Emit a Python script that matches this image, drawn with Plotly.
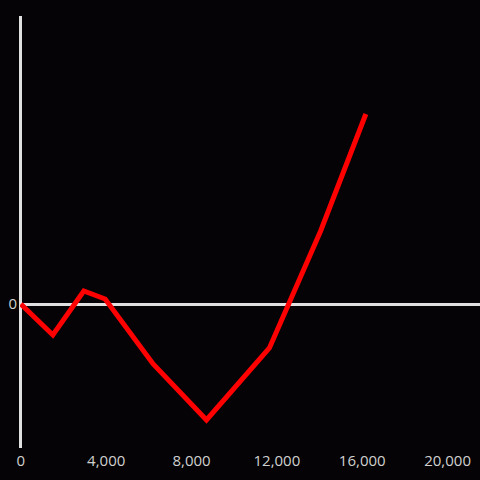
import plotly.graph_objects as go

x_vals = [0, 1500, 2950, 3950, 6200, 8700, 11650, 14050, 16170]
y_vals = [0, -31, 13, 5, -60, -116, -44, 73, 190]
x_ticks = [0, 4000, 8000, 12000, 16000, 20000]

fig = go.Figure(go.Scatter(x=x_vals, y=y_vals, mode="lines",
                           line=dict(color="#ff0000", width=5)))
fig.update_layout(
    width=480, height=480,
    margin=dict(l=20, r=0, t=16, b=32),
    paper_bgcolor="#050305", plot_bgcolor="#050305",
    showlegend=False,
    font=dict(color="#d0d0d0", size=15),
)
fig.update_xaxes(range=[-40, 21520], showgrid=False, zeroline=True,
                 zerolinecolor="#e0e0e0", zerolinewidth=3,
                 tickvals=x_ticks, tickformat=",", ticks="", showline=False,
                 ticklabelstandoff=2)
fig.update_yaxes(range=[-144, 288], showgrid=False, zeroline=True,
                 zerolinecolor="#e0e0e0", zerolinewidth=3,
                 tickvals=[0], ticks="", showline=False, ticklabelstandoff=2)
fig.write_html("out.html", config={"displayModeBar": False},
               post_script="document.body.style.margin='0';document.body.style.background='#050305';")
